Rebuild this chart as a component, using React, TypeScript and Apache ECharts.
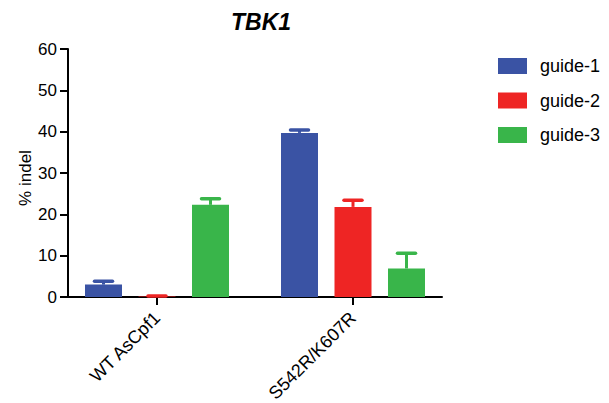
import React, { useEffect, useRef } from "react";
import * as echarts from "echarts";

const categories = ["WT AsCpf1", "S542R/K607R"];
const seriesNames = ["guide-1", "guide-2", "guide-3"];
const guide1 = [3.0, 39.7];
const guide2 = [0.1, 21.8];
const guide3 = [22.3, 6.9];
const guide1Err = [0.8, 0.7];
const guide2Err = [0.15, 1.6];
const guide3Err = [1.5, 3.7];
const yTicks = [0, 10, 20, 30, 40, 50, 60];
const colors = ["#3A53A4", "#EE2524", "#39B54A"];
const yAxisTitle = "% indel";

const FONT = "'Liberation Sans', Arial, Helvetica, sans-serif";
const BAR_W = 37;
const BAR_GAP = 0.446;

export default function App() {
  const ref = useRef<HTMLDivElement>(null);
  useEffect(() => {
    if (!ref.current) return;
    const chart = echarts.init(ref.current, null, { renderer: "svg" });
    const values = [guide1, guide2, guide3];
    const errs = [guide1Err, guide2Err, guide3Err];
    const step = BAR_W * (1 + BAR_GAP);

    const barSeries = seriesNames.map((name, i) => ({
      name,
      type: "bar",
      xAxisIndex: 1,
      yAxisIndex: 1,
      data: values[i],
      barWidth: BAR_W,
      barGap: `${BAR_GAP * 100}%`,
      itemStyle: { color: colors[i] },
      z: 2,
    }));

    const errSeries = seriesNames.map((name, i) => ({
      name: "err-" + name,
      type: "custom",
      xAxisIndex: 1,
      yAxisIndex: 1,
      z: 3,
      data: values[i].map((v, j) => [j, v, errs[i][j]]),
      renderItem: (params: any, api: any) => {
        const cat = api.value(0);
        const v = api.value(1);
        const e = api.value(2);
        const base = api.coord([cat, v]);
        const top = api.coord([cat, v + e]);
        const x = base[0] + (i - 1) * step;
        return {
          type: "group",
          children: [
            {
              type: "line",
              shape: { x1: x, y1: base[1], x2: x, y2: top[1] },
              style: { stroke: colors[i], lineWidth: 3 },
            },
            {
              type: "line",
              shape: { x1: x - 9, y1: top[1], x2: x + 9, y2: top[1] },
              style: { stroke: colors[i], lineWidth: 3.5, lineCap: "round" },
            },
          ],
        };
      },
    }));

    chart.setOption({
      animation: false,
      backgroundColor: "#ffffff",
      textStyle: { fontFamily: FONT, fontSize: 17, color: "#000" },
      title: {
        text: "TBK1",
        left: 226,
        top: 5,
        textStyle: {
          fontFamily: FONT,
          fontSize: 23,
          fontWeight: "bold",
          fontStyle: "italic",
          color: "#000",
        },
      },
      graphic: [
        {
          type: "text",
          x: 25,
          y: 178,
          rotation: Math.PI / 2,
          style: {
            text: yAxisTitle,
            fontFamily: FONT,
            fontSize: 17,
            fill: "#000",
            align: "center",
            verticalAlign: "middle",
          },
        },
      ],
      legend: {
        orient: "vertical",
        left: 493,
        top: 52,
        itemWidth: 29,
        itemHeight: 16,
        itemGap: 16.5,
        icon: "rect",
        data: seriesNames,
        selectedMode: false,
        textStyle: {
          fontFamily: FONT,
          fontSize: 18,
          lineHeight: 18,
          color: "#000",
          padding: [0, 0, 0, 8],
        },
      },
      grid: [
        { left: 68, right: 167, top: 49, bottom: 106, outerBoundsMode: "none", containLabel: false },
        { left: 59, right: 158, top: 49, bottom: 106, outerBoundsMode: "none", containLabel: false },
      ],
      xAxis: [
        {
          type: "value",
          gridIndex: 0,
          min: 0,
          max: 1,
          axisLine: { show: true, lineStyle: { color: "#000", width: 2 } },
          axisTick: { show: false },
          axisLabel: { show: false },
          splitLine: { show: false },
        },
        {
          type: "category",
          gridIndex: 1,
          data: categories,
          axisLine: { show: false },
          axisTick: {
            show: true,
            alignWithLabel: true,
            length: 8,
            lineStyle: { color: "#000", width: 2 },
          },
          axisLabel: {
            rotate: 45,
            margin: 18,
            fontFamily: FONT,
            fontSize: 18,
            color: "#000",
          },
        },
      ],
      yAxis: [
        {
          type: "value",
          gridIndex: 0,
          min: yTicks[0],
          max: yTicks[yTicks.length - 1],
          interval: 10,
          axisLine: { show: true, lineStyle: { color: "#000", width: 2 } },
          axisTick: { show: true, length: 8, lineStyle: { color: "#000", width: 2 } },
          axisLabel: { margin: 11, fontFamily: FONT, fontSize: 17, color: "#000" },
          splitLine: { show: false },
        },
        {
          type: "value",
          gridIndex: 1,
          min: yTicks[0],
          max: yTicks[yTicks.length - 1],
          interval: 10,
          show: false,
        },
      ],
      series: [...barSeries, ...errSeries],
    });
    return () => chart.dispose();
  }, []);
  return <div ref={ref} style={{ width: 609, height: 403, position: "absolute", left: 0, top: 0 }} />;
}
